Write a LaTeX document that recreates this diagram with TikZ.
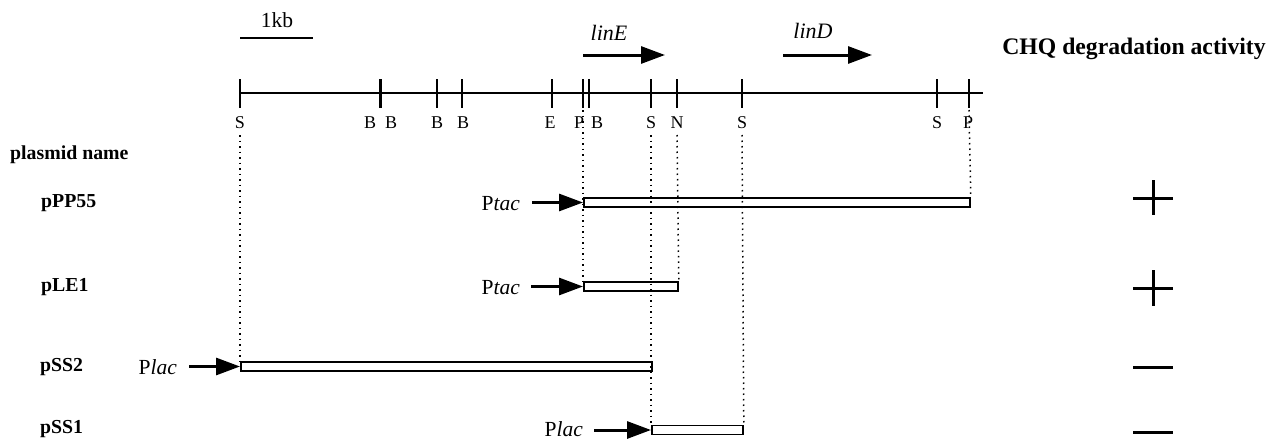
\documentclass[tikz,border=0pt]{standalone}
\usepackage{fontspec}
\setmainfont{Liberation Serif}
\usetikzlibrary{arrows.meta}
\begin{document}
\begin{tikzpicture}[x=1pt,y=-1pt,
  site/.style={font=\fontsize{18}{20}\selectfont, inner sep=0pt},
  plasname/.style={font=\bfseries\fontsize{19.8}{22}\selectfont, anchor=west, inner sep=0pt},
  promoter/.style={font=\fontsize{21.5}{24}\selectfont, anchor=east, inner sep=0pt},
  insertbox/.style={draw, line width=1.8pt, fill=white, minimum height=9pt, inner sep=0pt, anchor=west},
  prom/.style={line width=3pt, -{Triangle[length=24pt,width=17pt]}},
  gene/.style={line width=3pt, -{Triangle[length=24pt,width=17pt]}},
  tick/.style={line width=1.2pt},
  guide/.style={line width=1.5pt, dash pattern=on 1.5pt off 4pt},
  sign/.style={line width=3pt}]
\useasboundingbox (0,0) rectangle (1267,439);

% scale bar
\coordinate (kbL) at (240,38);
\coordinate (kbR) at (313,38);
\draw[line width=1.1pt] (kbL) -- (kbR);
\node[font=\fontsize{21.5}{24}\selectfont, inner sep=0pt] (kb) at (277,20) {1kb};

% gene arrows
\coordinate (eA) at (583,55);
\coordinate (eB) at (665,55);
\coordinate (dA) at (783,55);
\coordinate (dB) at (872,55);
\draw[gene] (eA) -- (eB);
\draw[gene] (dA) -- (dB);
\node[font=\itshape\fontsize{22}{24}\selectfont, inner sep=0pt] (linE) at (609,33) {linE};
\node[font=\itshape\fontsize{22}{24}\selectfont, inner sep=0pt] (linD) at (813,31) {linD};

\node[font=\bfseries\fontsize{23.7}{26}\selectfont, inner sep=0pt] (chq) at (1134,49) {CHQ degradation activity};

% restriction map
\coordinate (mapL) at (240,93);
\coordinate (mapR) at (983,93);
\draw[line width=1.3pt] (mapL) -- (mapR);
\foreach \x in {240,437,462,552,583,589,651,677,742,937,969}
  \draw[tick] (\x,79) -- (\x,108);
\draw[line width=3pt] (380,79) -- (380,108);

\foreach \x/\l in {240/S,370/B,391/B,437/B,463/B,550/E,579/P,597/B,651/S,677/N,742/S,937/S,968/P}
  \node[site] at (\x,123) {\l};

\node[plasname, anchor=west] (hdr) at (10,155) {plasmid name};

% constructs
\node[plasname] (n1) at (41,203) {pPP55};
\node[plasname] (n2) at (41,287) {pLE1};
\node[plasname] (n3) at (40,367) {pSS2};
\node[plasname] (n4) at (40,429) {pSS1};

\node[insertbox, minimum width=386pt] (b1) at (583,202.5) {};
\node[insertbox, minimum width=94pt] (b2) at (583,286.5) {};
\node[insertbox, minimum width=411pt] (b3) at (240,366.5) {};
\node[insertbox, minimum width=91pt] (b4) at (651,430) {};

\node[promoter] (p1) at (520,204) {P\textit{tac}};
\node[promoter] (p2) at (520,288) {P\textit{tac}};
\node[promoter] (p3) at (177,367) {P\textit{lac}};
\node[promoter] (p4) at (583,429) {P\textit{lac}};

\draw[prom] ([xshift=12pt]p1.east |- b1.west) -- (b1.west);
\draw[prom] ([xshift=11pt]p2.east |- b2.west) -- (b2.west);
\draw[prom] ([xshift=12pt]p3.east |- b3.west) -- (b3.west);
\draw[prom] ([xshift=11pt]p4.east |- b4.west) -- (b4.west);

% guide lines from sites to insert ends
\draw[guide] (240,135) -- (b3.north west);
\draw[guide] (583,110) -- (b2.north west);
\draw[guide] (651,135) -- (b4.north west);
\draw[guide] (677,135) -- (b2.north east);
\draw[guide] (742,135) -- (b4.north east);
\draw[guide] (969,110) -- (b1.north east);

% activity signs
\draw[sign] (1133,198) -- (1173,198) (1153,180) -- (1153,215);
\draw[sign] (1133,288) -- (1173,288) (1153,270) -- (1153,306);
\draw[sign] (1133,367) -- (1173,367);
\draw[sign] (1133,432) -- (1173,432);
\end{tikzpicture}
\end{document}
